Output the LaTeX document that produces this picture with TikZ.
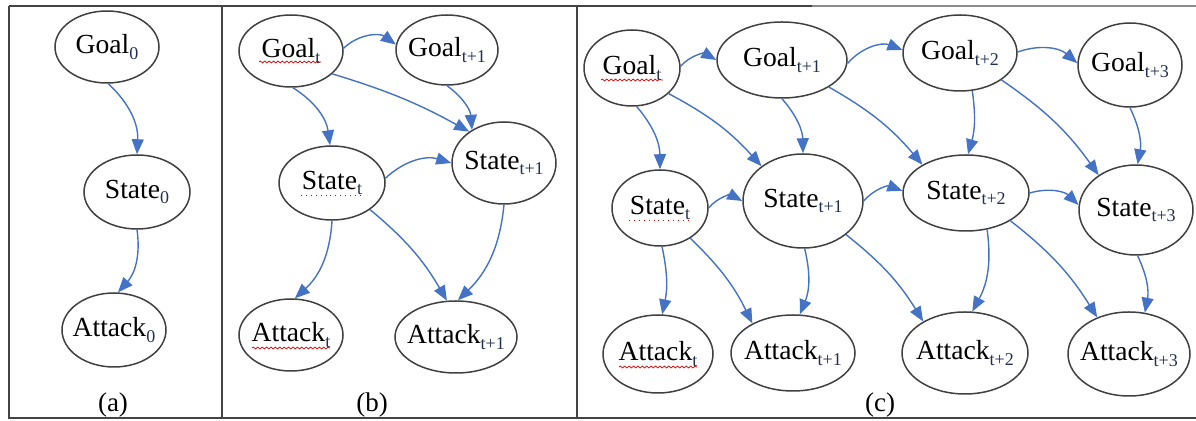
\documentclass[tikz,border=0pt]{standalone}
\usepackage{fontspec}
\setmainfont{Liberation Serif}
\usetikzlibrary{shapes.geometric,arrows.meta,decorations.pathmorphing}
\definecolor{edgeblue}{HTML}{4472C4}
\definecolor{subink}{HTML}{22304F}
\definecolor{framegray}{HTML}{444444}
% lowered, smaller index after a variable name
\newcommand{\lowidx}[1]{\raisebox{-2.7pt}{\fontsize{9}{10}\selectfont\color{subink}#1}}
% ellipse variable: name, x, y, half-width, half-height, text
% (the label is set in a zero-width box so the ellipse keeps its given size)
\newcommand{\ev}[6]{\node[var, minimum width=#4pt, minimum height=#5pt] (#1) at (#2,-#3) {\makebox[0pt]{#6}};}
% dependency arrow: source, source angle, target, target angle, bend
\newcommand{\dep}[5]{\draw[dep=#5] (#1.#2) to (#3.#4);}

\begin{document}
\begin{tikzpicture}[x=0.5pt,y=0.5pt,
  var/.style={ellipse, draw=black!75, line width=0.75pt, inner sep=0pt,
    font=\fontsize{13.8}{16}\selectfont, text=black},
  dep/.style={-{Triangle[length=7.5pt,width=6pt]}, draw=edgeblue,
    line width=0.7pt, bend left=#1},
  dep/.default=20,
  frame/.style={draw=framegray, line width=1pt},
  framelight/.style={draw=black!45, line width=1pt},
  squig/.style={draw=red!85!black, line width=0.35pt,
    decorate, decoration={snake, amplitude=0.5pt, segment length=2.2pt}},
  dotline/.style={draw=red!85!black, line width=0.45pt, dotted},
  caption/.style={font=\fontsize{13.5}{15}\selectfont}]
\useasboundingbox (0,0) rectangle (1196,-421);

% panel frame
\draw[frame] (9,-6) -- (812,-6);
\draw[framelight] (812,-6) -- (1196,-6);
\draw[frame] (9,-6) -- (9,-418) -- (1196,-418);
\draw[frame] (222,-6) -- (222,-418);
\draw[frame] (577,-6) -- (577,-418);

% (a) single slice
\ev{ga}{107}{47}{52}{36}{Goal\lowidx{0}}
\ev{sa}{137}{192}{53}{37}{State\lowidx{0}}
\ev{aa}{114}{330}{52}{37}{Attack\lowidx{0}}
\dep{ga}{-88}{sa}{90}{25}
\dep{sa}{-90}{aa}{84}{25}
\node[caption] (capa) at (113,-405) {(a)};

% (b) two slices
\ev{gb0}{291}{51}{52}{36}{Goal\lowidx{t}}
\ev{gb1}{447}{50}{51}{35}{Goal\lowidx{t+1}}
\ev{sb0}{332}{183}{53}{37}{State\lowidx{t}}
\ev{sb1}{504}{163}{52}{41}{State\lowidx{t+1}}
\ev{ab0}{291}{335}{52}{36}{Attack\lowidx{t}}
\ev{ab1}{456}{337}{61}{36}{Attack\lowidx{t+1}}
\dep{gb0}{3}{gb1}{174}{40}
\dep{gb0}{-29}{sb1}{138}{6}
\dep{gb1}{-90}{sb1}{134}{25}
\dep{gb0}{-87}{sb0}{93}{25}
\dep{sb0}{5}{sb1}{180}{30}
\dep{sb0}{-90}{ab0}{84}{22}
\dep{sb0}{-35}{ab1}{104}{10}
\dep{sb1}{-90}{ab1}{87}{20}
\draw[squig] ([shift={(-32,-11)}]gb0.center) -- ++(62,0);
\draw[dotline] ([shift={(-31,-12)}]sb0.center) -- ++(63,0);
\draw[squig] ([shift={(-39,-13)}]ab0.center) -- ++(78,0);
\node[caption] (capb) at (372,-405) {(b)};

% (c) four slices
\ev{gc0}{632}{68}{48}{38}{Goal\lowidx{t}}
\ev{gc1}{782}{60}{65}{38}{Goal\lowidx{t+1}}
\ev{gc2}{960}{53}{57}{38}{Goal\lowidx{t+2}}
\ev{gc3}{1130}{65}{52}{42}{Goal\lowidx{t+3}}
\ev{sc0}{660}{208}{48}{38}{State\lowidx{t}}
\ev{sc1}{803}{201}{60}{47}{State\lowidx{t+1}}
\ev{sc2}{966}{193}{63}{38}{State\lowidx{t+2}}
\ev{sc3}{1136}{210}{57}{45}{State\lowidx{t+3}}
\ev{ac0}{658}{354}{55}{39}{Attack\lowidx{t}}
\ev{ac1}{793}{353}{62}{38}{Attack\lowidx{t+1}}
\ev{ac2}{965}{353}{63}{41}{Attack\lowidx{t+2}}
\ev{ac3}{1129}{354}{61}{42}{Attack\lowidx{t+3}}
% goal chain
\dep{gc0}{2}{gc1}{180}{40}
\dep{gc1}{-3}{gc2}{177}{35}
\dep{gc2}{1}{gc3}{178}{30}
% goal to state
\dep{gc0}{-83}{sc0}{90}{20}
\dep{gc0}{-35}{sc1}{140}{10}
\dep{gc1}{-90}{sc1}{90}{20}
\dep{gc1}{-30}{sc2}{147}{10}
\dep{gc2}{-72}{sc2}{87}{12}
\dep{gc2}{-33}{sc3}{137}{10}
\dep{gc3}{-90}{sc3}{88}{18}
% state chain
\dep{sc0}{0}{sc1}{180}{40}
\dep{sc1}{0}{sc2}{178}{35}
\dep{sc2}{0}{sc3}{175}{30}
% state to attack
\dep{sc0}{-87}{ac0}{84}{12}
\dep{sc0}{-45}{ac1}{144}{10}
\dep{sc1}{-88}{ac1}{80}{18}
\dep{sc1}{-38}{ac2}{143}{10}
\dep{sc2}{-60}{ac2}{80}{18}
\dep{sc2}{-32}{ac3}{131}{10}
\dep{sc3}{-88}{ac3}{69}{18}
\draw[squig] ([shift={(-31,-12)}]gc0.center) -- ++(62,0);
\draw[dotline] ([shift={(-31,-12)}]sc0.center) -- ++(63,0);
\draw[squig] ([shift={(-39,-13)}]ac0.center) -- ++(78,0);
\node[caption] (capc) at (880,-405) {(c)};
\end{tikzpicture}
\end{document}
